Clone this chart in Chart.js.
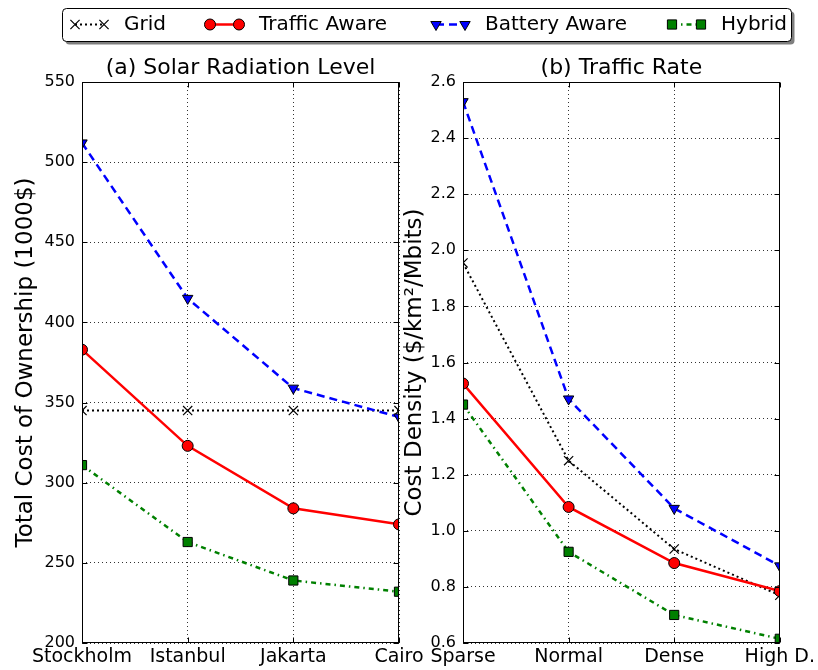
<!DOCTYPE html>
<html>
<head>
<meta charset="utf-8">
<script src="https://cdn.jsdelivr.net/npm/chart.js@4/dist/chart.umd.min.js"></script>
<style>
  body { margin: 0; background: #fff; }
  #wrap { position: relative; width: 818px; height: 670px; }
  #costChart { position: absolute; left: 0; top: 0; }
  #densityChart { position: absolute; left: 390px; top: 0; }
</style>
</head>
<body>
<div id="wrap">
  <canvas id="costChart" width="818" height="670"></canvas>
  <canvas id="densityChart" width="428" height="670"></canvas>
</div>
<script>
// data
var seriesNames = ['Grid', 'Traffic Aware', 'Battery Aware', 'Hybrid'];

var cities = ['Stockholm', 'Istanbul', 'Jakarta', 'Cairo'];
var gridCost = [345, 345, 345, 345];
var trafficCost = [383, 323, 284, 274];
var batteryCost = [512, 415, 359, 341];
var hybridCost = [311, 263, 239, 232];
var costTicks = [200, 250, 300, 350, 400, 450, 500, 550];

var rates = ['Sparse', 'Normal', 'Dense', 'High D.'];
var gridDensity = [1.955, 1.25, 0.935, 0.77];
var trafficDensity = [1.525, 1.085, 0.885, 0.785];
var batteryDensity = [2.53, 1.47, 1.08, 0.875];
var hybridDensity = [1.45, 0.925, 0.70, 0.615];
var densityTicks = [0.6, 0.8, 1.0, 1.2, 1.4, 1.6, 1.8, 2.0, 2.2, 2.4, 2.6];

Chart.defaults.font.family = 'DejaVu Sans';
Chart.defaults.color = '#000';

// matplotlib-ish line/marker styles
var styles = [
  {color: '#000000', dash: [2, 3], point: 'crossRot', radius: 6.5, width: 2, rot: 0, order: 4},
  {color: '#ff0000', dash: [], point: 'circle', radius: 5.5, width: 2.5, rot: 0, order: 3},
  {color: '#0000ff', dash: [8, 5], point: 'triangle', radius: 6, width: 2.5, rot: 180, order: 2},
  {color: '#008000', dash: [5, 4, 1.5, 4], point: 'rect', radius: 6.5, width: 2.5, rot: 0, order: 1}
];

function makeDatasets(values){
  return values.map(function(v, i){
    var s = styles[i];
    return {
      label: seriesNames[i],
      data: v,
      borderColor: s.color,
      borderWidth: s.width,
      borderDash: s.dash,
      pointStyle: s.point,
      pointRadius: s.radius,
      pointRotation: s.rot,
      pointBackgroundColor: s.color,
      pointBorderColor: '#000',
      pointBorderWidth: s.point == 'crossRot' ? 1.2 : 1,
      tension: 0,
      fill: false,
      clip: 0,
      order: s.order
    };
  });
}

var whiteBg = {
  id: 'whiteBg',
  beforeDraw: function(chart){
    var ctx = chart.ctx;
    ctx.save();
    ctx.fillStyle = '#fff';
    ctx.fillRect(0, 0, chart.width, chart.height);
    ctx.restore();
  }
};

// box round the axes plus inward ticks
var frame = {
  id: 'frame',
  afterDatasetsDraw: function(chart){
    var a = chart.chartArea, ctx = chart.ctx;
    var l = Math.round(a.left) + 0.5, r = Math.round(a.right) - 0.5;
    var t = Math.round(a.top) + 0.5, b = Math.round(a.bottom) - 0.5;
    ctx.save();
    ctx.setLineDash([]);
    ctx.strokeStyle = '#000';
    ctx.lineWidth = 1;
    ctx.beginPath();
    chart.scales.y.ticks.forEach(function(tk){
      var py = Math.round(chart.scales.y.getPixelForValue(tk.value)) + 0.5;
      ctx.moveTo(l, py); ctx.lineTo(l + 5, py);
      ctx.moveTo(r, py); ctx.lineTo(r - 5, py);
    });
    chart.scales.x.ticks.forEach(function(tk, i){
      var px = Math.round(chart.scales.x.getPixelForTick(i)) + 0.5;
      ctx.moveTo(px, t); ctx.lineTo(px, t + 5);
      ctx.moveTo(px, b); ctx.lineTo(px, b - 5);
    });
    ctx.stroke();
    ctx.strokeRect(l, t, r - l, b - t);
    ctx.restore();
  }
};

// legend across the top, like matplotlib's with a shadow
var legendX = [75, 210, 436, 672];
var topLegend = {
  id: 'topLegend',
  afterDraw: function(chart){
    var ctx = chart.ctx;
    ctx.save();
    function box(x, y, w, h, rr){
      ctx.beginPath();
      ctx.moveTo(x + rr, y);
      ctx.arcTo(x + w, y, x + w, y + h, rr);
      ctx.arcTo(x + w, y + h, x, y + h, rr);
      ctx.arcTo(x, y + h, x, y, rr);
      ctx.arcTo(x, y, x + w, y, rr);
      ctx.closePath();
    }
    box(65.5, 11.5, 729, 33, 4);
    ctx.fillStyle = 'rgba(0,0,0,0.5)';
    ctx.fill();
    box(62.5, 8.5, 729, 33, 4);
    ctx.fillStyle = '#fff';
    ctx.fill();
    ctx.lineWidth = 1;
    ctx.strokeStyle = '#000';
    ctx.stroke();

    var y = 24.5;
    chart.data.datasets.forEach(function(ds, i){
      var x0 = legendX[i], x1 = x0 + 29;
      ctx.setLineDash(ds.borderDash);
      ctx.strokeStyle = ds.borderColor;
      ctx.lineWidth = ds.borderWidth;
      ctx.beginPath();
      ctx.moveTo(x0, y); ctx.lineTo(x1, y);
      ctx.stroke();
      ctx.setLineDash([]);
      ctx.fillStyle = ds.pointBackgroundColor;
      ctx.strokeStyle = ds.pointBorderColor;
      ctx.lineWidth = ds.pointBorderWidth;
      [x0, x1].forEach(function(px){
        Chart.helpers.drawPoint(ctx, {pointStyle: ds.pointStyle, radius: ds.pointRadius,
          rotation: ds.pointRotation, borderWidth: ds.pointBorderWidth}, px, y);
      });
      ctx.fillStyle = '#000';
      ctx.font = '20px "DejaVu Sans"';
      ctx.textBaseline = 'middle';
      ctx.textAlign = 'left';
      ctx.fillText(ds.label, x0 + 49, y);
    });
    ctx.restore();
  }
};

function gridOpts(){
  return {color: 'rgba(0,0,0,0.8)', lineWidth: 1, drawTicks: false};
}

function makeChart(id, labels, values, yTicks, title, yTitle, rightPad, yWidth, titlePad, extraPlugins){
  var ctx = document.getElementById(id).getContext('2d');
  return new Chart(ctx, {
    type: 'line',
    data: {labels: labels, datasets: makeDatasets(values)},
    options: {
      responsive: false,
      animation: false,
      layout: {padding: {left: 0, right: rightPad, top: 0, bottom: 0}},
      plugins: {
        legend: {display: false},
        tooltip: {enabled: false},
        title: {display: true, text: title, fullSize: false, color: '#000',
          font: {size: 22, weight: 'normal'}, padding: {top: 55, bottom: 0.6}}
      },
      scales: {
        x: {
          offset: false,
          grid: gridOpts(),
          border: {display: false, dash: [1, 3]},
          ticks: {font: {size: 19}, padding: 3, maxRotation: 0, autoSkip: false},
          afterFit: function(s){ s.height = 27; }
        },
        y: {
          min: yTicks[0],
          max: yTicks[yTicks.length - 1],
          grid: gridOpts(),
          border: {display: false, dash: [1, 3]},
          afterBuildTicks: function(s){ s.ticks = yTicks.map(function(v){ return {value: v}; }); },
          ticks: {font: {size: 16}, padding: 7,
            callback: function(v){ return yTicks[0] < 10 ? Number(v).toFixed(1) : v; }},
          title: {display: true, text: yTitle, color: '#000', font: {size: 23},
            padding: {top: titlePad, bottom: 0}},
          afterFit: function(s){ s.width = yWidth; }
        }
      }
    },
    plugins: [frame].concat(extraPlugins || [])
  });
}

makeChart('costChart', cities, [gridCost, trafficCost, batteryCost, hybridCost], costTicks,
  '(a) Solar Radiation Level', 'Total Cost of Ownership (1000$)', 419, 82, 12, [whiteBg, topLegend]);

// second panel sits on top, transparent
var densityChart = makeChart('densityChart', rates, [gridDensity, trafficDensity, batteryDensity, hybridDensity], densityTicks,
  '(b) Traffic Rate', 'Cost Density ($/km²/Mbits)', 37, 73, 11, []);
</script>
</body>
</html>
